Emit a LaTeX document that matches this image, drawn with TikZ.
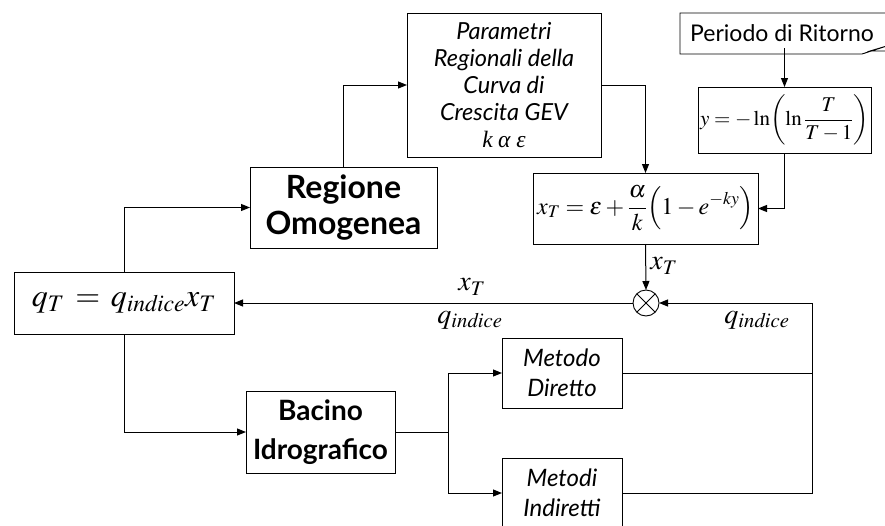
\documentclass[tikz,border=0pt]{standalone}
\usepackage{mathptmx}
\usepackage{fontspec}
\setmainfont{Lato}
\newfontfamily\tnr{Liberation Serif}
\usetikzlibrary{arrows.meta}
\newcommand{\fs}[2]{\fontsize{#1}{#2}\selectfont}
\begin{document}
\begin{tikzpicture}[x=1pt,y=-1pt,line width=1pt,
  >={Triangle[length=9pt,width=7pt]},
  box/.style={draw,line width=0.9pt,align=center,inner sep=0pt,outer sep=0pt},
  lbl/.style={inner sep=0pt}]
\useasboundingbox (0,0) rectangle (885,525);
% boxes
\node[box,minimum width=194pt,minimum height=144pt,font=\fs{23.5}{27}\itshape] (par) at (504,85)
  {Parametri\\Regionali della\\Curva di\\Crescita GEV\\{\tnr\itshape k} {\tnr α ε}};
\draw[line width=0.9pt] (900,13) -- (680,13) -- (680,54) -- (862,54) -- (890,45) -- (870,51) -- (900,51);
\node[lbl,font=\fs{23}{27}] (per) at (782,33) {Periodo di Ritorno};
\node[box,minimum width=173pt,minimum height=66pt,font=\fs{21}{25}] (yb) at (784.5,120)
  {$\displaystyle y=-\ln\!\left(\ln\frac{T}{T-1}\right)$};
\node[box,minimum width=225pt,minimum height=71pt,font=\fs{24}{28}] (xb) at (645.5,208.5)
  {$\displaystyle x_T=\varepsilon+\frac{\alpha}{k}\!\left(1-e^{-ky}\right)$};
\node[box,minimum width=187pt,minimum height=81pt,font=\fs{32}{36}\bfseries] (reg) at (343.5,207.5)
  {Regione\\Omogenea};
\node[box,minimum width=220pt,minimum height=62pt,font=\fs{32}{38}] (qb) at (124,303)
  {$q_T\,=\,q_{\mathit{indice}}x_T$};
\node[draw,circle,line width=0.9pt,minimum size=26pt,inner sep=0pt,outer sep=0pt] (circ) at (646,303) {};
\draw[line width=0.9pt] (circ.north west) -- (circ.south east) (circ.north east) -- (circ.south west);
\node[box,minimum width=149pt,minimum height=82pt,font=\fs{28}{39}\bfseries] (bac) at (320.5,432)
  {Bacino\\Idrografico};
\node[box,minimum width=120pt,minimum height=70pt,font=\fs{24}{30}\itshape] (md) at (562,373)
  {Metodo\\Diretto};
\node[box,minimum width=120pt,minimum height=70pt,font=\fs{24}{30}\itshape] (mi) at (562,493)
  {Metodi\\Indiretti};
% coordinates
\coordinate (split) at (448,432);
\coordinate (rx) at (812,303);
% connectors
\draw[->] (per.south -| yb.north) ++(0,6) coordinate (ps) -- (yb.north);
\draw[->] (par.east) -| (xb.north);
\draw[->] (reg.north) |- (par.west);
\draw[->] (yb.south) |- (xb.east);
\draw[->] (xb.south) -- (circ.north);
\draw[->] (circ.west) -- (qb.east);
\draw[->] (qb.north) |- (reg.west);
\draw[->] (qb.south) |- (bac.west);
\draw (bac.east) -- (split);
\draw[->] (split) |- (md.west);
\draw[->] (split) |- (mi.west);
\draw (md.east) -- (md.east -| rx);
\draw[->] (mi.east) -| (rx) -- (circ.east);
% labels
\node[lbl,font=\fs{28}{32}] (l1) at (664,266) {$x_T$};
\node[lbl,font=\fs{28}{32}] (l2) at (472,287) {$x_T$};
\node[lbl,font=\fs{28}{32}] (l3) at (470,320) {$q_{\mathit{indice}}$};
\node[lbl,font=\fs{28}{32}] (l4) at (757,320) {$q_{\mathit{indice}}$};
\end{tikzpicture}
\end{document}
